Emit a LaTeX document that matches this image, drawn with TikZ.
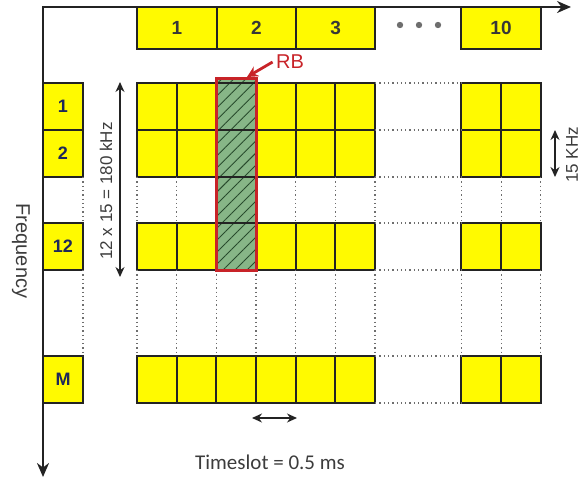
\documentclass[tikz,border=0pt]{standalone}
\usepackage{fontspec}
\setmainfont{Liberation Sans}
\newfontfamily\slotfont{Carlito}
\usetikzlibrary{arrows.meta,patterns.meta}

\definecolor{slotyellow}{RGB}{255,250,0}
\definecolor{gridline}{RGB}{35,35,35}
\definecolor{dotgray}{RGB}{110,110,110}
\definecolor{numgray}{RGB}{55,55,55}
\definecolor{numblue}{RGB}{30,40,90}
\definecolor{labelgray}{RGB}{60,60,60}
\definecolor{rbgreen}{RGB}{135,182,135}
\definecolor{hatchgreen}{RGB}{40,75,45}
\definecolor{rbred}{RGB}{200,35,40}

\begin{document}
\begin{tikzpicture}[x=1pt, y=-1pt,
    >={Stealth[length=10pt, width=9pt]},
    cell/.style={draw=gridline, line width=1.8pt, fill=slotyellow,
        minimum width=39.67pt, minimum height=47pt, inner sep=0pt, outer sep=0pt},
    slotbox/.style={cell, minimum width=79.33pt, minimum height=42pt,
        font=\fontsize{19}{22}\selectfont\bfseries, text=numgray},
    rowbox/.style={cell, minimum width=40pt,
        font=\fontsize{18}{21}\selectfont\bfseries, text=numblue},
    gapline/.style={draw=dotgray, line width=1.2pt, dash pattern=on 1.3pt off 3pt},
    dimarrow/.style={<->, line width=1.3pt, draw=gridline},
    lbl/.style={font=\fontsize{17}{20}\selectfont, text=labelgray}]

    \useasboundingbox (0,0) rectangle (580,481);

    % Time and frequency axes
    \coordinate (origin) at (43,7);
    \coordinate (timeend) at (571,7);
    \coordinate (freqend) at (43,477);
    \draw[<->, line width=2.2pt, draw=gridline, >={Stealth[length=14pt, width=12pt]}]
        (freqend) -- (origin) -- (timeend);
    \node[lbl, font=\fontsize{20}{23}\selectfont, rotate=-90] (freq-label) at (21,251) {Frequency};

    % Slots along the time axis
    \node[slotbox] (slot-1) at (177,28) {1};
    \node[slotbox] (slot-2) at (256.33,28) {2};
    \node[slotbox] (slot-3) at (335.67,28) {3};
    \node[slotbox] (slot-10) at (501,28) {10};
    \foreach \dx in {400,419,438}
        \fill[dotgray] (\dx,25) circle (3.2pt);

    % Subcarrier rows
    \foreach \r/\ty in {1/83, 2/130, 12/223, M/356} {
        \node[rowbox] (row-\r) at (63,\ty+23.5) {\r};
        \foreach \c in {1,...,6}
            \node[cell] (cell-\r-\c) at (137+\c*39.67-19.83,\ty+23.5) {};
        \foreach \c/\cx in {19/481, 20/521}
            \node[cell] (cell-\r-\c) at (\cx,\ty+23.5) {};
    }

    % Dotted gaps
    \foreach \a/\b in {2/12, 12/M} {
        \draw[gapline] (row-\a.south east) -- (row-\b.north east);
        \foreach \c in {1,...,6,19,20}
            \draw[gapline] (cell-\a-\c.south west) -- (cell-\b-\c.north west);
        \draw[gapline] (cell-\a-6.south east) -- (cell-\b-6.north east);
        \draw[gapline] (cell-\a-20.south east) -- (cell-\b-20.north east);
    }
    \foreach \r in {1,2,12,M} {
        \draw[gapline] (cell-\r-6.north east) -- (cell-\r-19.north west);
        \draw[gapline] (cell-\r-6.south east) -- (cell-\r-19.south west);
    }

    % Resource block
    \node[fill=rbgreen, minimum width=40pt, minimum height=191pt, inner sep=0pt,
        postaction={pattern={Lines[angle=45, distance=8.5pt, line width=0.9pt]},
            pattern color=hatchgreen}] (rb) at (236.5,174.5) {};
    \foreach \r in {1,2,12}
        \draw[draw=gridline, line width=1.8pt] (cell-\r-3.north west) rectangle (cell-\r-3.south east);
    \draw[draw=rbred, line width=2.8pt] (rb.north west) rectangle (rb.south east);
    \node[lbl, font=\fontsize{20}{23}\selectfont, text=rbred] (rb-label) at (290,62) {RB};
    \coordinate (rb-tip) at (247,77);
    \draw[->, draw=rbred, line width=2.8pt, >={Stealth[length=11pt, width=11pt]}]
        (rb-label.west) -- (rb-tip);

    % Bandwidth and spacing
    \coordinate (bw-top) at (120,82);
    \coordinate (bw-bot) at (120,277);
    \draw[dimarrow] (bw-top) -- (bw-bot);
    \node[lbl, rotate=90] (bw-text) at (106,191) {12 x 15 = 180 kHz};
    \coordinate (sc-top) at (555,130);
    \coordinate (sc-bot) at (555,177);
    \draw[dimarrow] (sc-top) -- (sc-bot);
    \node[lbl, rotate=90] (sc-text) at (572,155) {15 KHz};

    % Timeslot
    \coordinate (ts-left) at (252,418);
    \coordinate (ts-right) at (297,418);
    \draw[dimarrow] (ts-left) -- (ts-right);
    \node[lbl, font=\slotfont\fontsize{21}{24}\selectfont] (ts-text) at (270,462) {Timeslot = 0.5 ms};
\end{tikzpicture}
\end{document}
